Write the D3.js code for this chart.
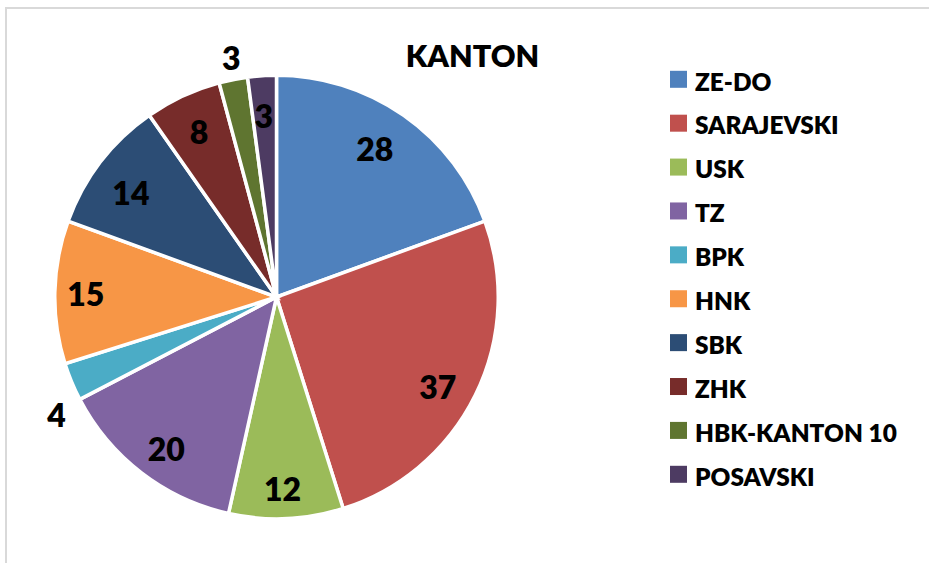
<!DOCTYPE html>
<html>
<head>
<meta charset="utf-8">
<script src="https://cdn.jsdelivr.net/npm/d3@7"></script>
<style>
  html, body { margin: 0; padding: 0; background: #fff; }
  svg { display: block; }
  text { font-family: Lato, "Open Sans", sans-serif; font-weight: 800; fill: #000; }
</style>
</head>
<body>
<svg id="chart" width="929" height="563"></svg>
<script>
const title = "KANTON";
const categories = ["ZE-DO", "SARAJEVSKI", "USK", "TZ", "BPK", "HNK", "SBK", "ZHK", "HBK-KANTON 10", "POSAVSKI"];
const values = [28, 37, 12, 20, 4, 15, 14, 8, 3, 3];
const colors = ["#4F81BD", "#C0504D", "#9BBB59", "#8064A2", "#4BACC6", "#F79646", "#2C4D75", "#772C2A", "#5F7530", "#4D3B62"];

const svg = d3.select("#chart");

// chart area border (right/bottom edges fall outside the picture)
svg.append("rect")
  .attr("x", 6).attr("y", 8).attr("width", 1000).attr("height", 1000)
  .attr("fill", "none").attr("stroke", "#d9d9d9").attr("stroke-width", 2);

const cx = 276.5, cy = 297, R = 220;
const strokeW = 3.5;

const data = categories.map((c, i) => ({ name: c, value: values[i], color: colors[i], i }));

const pie = d3.pie().value(d => d.value).sort(null)
  .startAngle(0).endAngle(2 * Math.PI);
const arcs = pie(data);

const arc = d3.arc().innerRadius(0).outerRadius(R + strokeW / 2);

const g = svg.append("g").attr("transform", `translate(${cx},${cy})`);

g.selectAll("path.slice")
  .data(arcs)
  .join("path")
  .attr("class", "slice")
  .attr("d", arc)
  .attr("fill", d => d.data.color)
  .attr("stroke", "#fff")
  .attr("stroke-width", strokeW)
  .attr("stroke-linejoin", "miter");

// data-label placement (style): radius factor k and angle nudge da (degrees) per slice,
// mimicking the spreadsheet's "best fit" label layout
const labelPos = {
  "ZE-DO": { k: 0.805, da: -1.3 },
  "SARAJEVSKI": { k: 0.84, da: 3 },
  "USK": { k: 0.874, da: 0.7 },
  "TZ": { k: 0.855, da: -1.6 },
  "BPK": { k: 1.135, da: -5.7 },
  "HNK": { k: 0.867, da: -0.5 },
  "SBK": { k: 0.811, da: -2.2 },
  "ZHK": { k: 0.826, da: -0.2 },
  "HBK-KANTON 10": { k: 1.105, da: 0.5 },
  "POSAVSKI": { k: 0.823, da: -0.25 }
};
const labelSize = 32;
function labelXY(d) {
  const o = labelPos[d.data.name] || { k: 0.83, da: 0 };
  const a = (d.startAngle + d.endAngle) / 2 + o.da * Math.PI / 180;
  return [Math.sin(a) * R * o.k, -Math.cos(a) * R * o.k];
}

g.selectAll("text.val")
  .data(arcs)
  .join("text")
  .attr("class", "val")
  .attr("text-anchor", "middle")
  .attr("font-size", labelSize)
  .attr("dy", "0.36em")
  .attr("x", d => labelXY(d)[0])
  .attr("y", d => labelXY(d)[1])
  .text(d => d.data.value);

// title
svg.append("text")
  .attr("x", 472.5).attr("y", 66.5)
  .attr("text-anchor", "middle")
  .attr("font-size", 30.5)
  .text(title);

// legend
const legY = d3.scalePoint().domain(categories).range([79.3, 474.3]);
const leg = svg.append("g");
const items = leg.selectAll("g.item").data(data).join("g").attr("class", "item")
  .attr("transform", d => `translate(670,${legY(d.name)})`);
items.append("rect")
  .attr("x", 0).attr("y", -8.5).attr("width", 17).attr("height", 17)
  .attr("fill", d => d.color);
items.append("text")
  .attr("x", 25).attr("y", 11.2)
  .attr("font-size", 24.4)
  .text(d => d.name);
</script>
</body>
</html>
